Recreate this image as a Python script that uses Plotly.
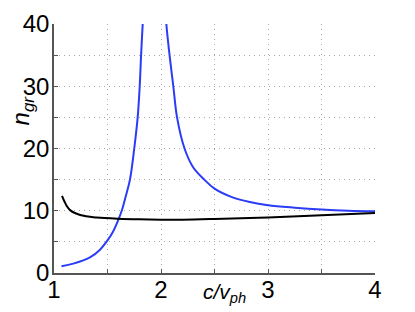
import plotly.graph_objects as go

# Blue curve, left branch (rising to divergence)
blue_left_x = [1.07, 1.18, 1.336, 1.43, 1.49, 1.55, 1.60, 1.633, 1.67, 1.71, 1.75, 1.782, 1.801, 1.814, 1.829, 1.835]
blue_left_y = [1.1, 1.5, 2.5, 3.75, 5.0, 6.6, 8.5, 10.0, 12.3, 15.0, 20.0, 25.0, 30.0, 35.0, 40.0, 42.0]

# Blue curve, right branch (decaying from divergence)
blue_right_x = [2.045, 2.05, 2.08, 2.115, 2.15, 2.22, 2.30, 2.405, 2.5, 2.676, 2.83, 3.0, 3.25, 3.5, 3.75, 4.0]
blue_right_y = [42.0, 40.0, 35.0, 30.0, 25.0, 20.0, 17.0, 15.0, 13.55, 12.1, 11.4, 10.9, 10.5, 10.2, 10.0, 9.9]

# Black curve
black_x = [1.075, 1.1, 1.12, 1.15, 1.2, 1.3, 1.4, 1.6, 1.8, 2.0, 2.2, 2.5, 3.0, 3.5, 4.0]
black_y = [12.4, 11.4, 10.75, 10.1, 9.6, 9.1, 8.9, 8.72, 8.62, 8.57, 8.57, 8.68, 8.92, 9.26, 9.65]

x_tickvals = [1, 1.5, 2, 2.5, 3, 3.5, 4]
x_ticktext = ["1", "", "2", "", "3", "", "4"]
y_tickvals = [0, 5, 10, 15, 20, 25, 30, 35, 40]
y_ticktext = ["0", "", "10", "", "20", "", "30", "", "40"]

BLUE = "#2a3cf6"
FONT = "Liberation Sans, Arial, sans-serif"

fig = go.Figure()
for xs, ys, col in [(blue_left_x, blue_left_y, BLUE),
                    (blue_right_x, blue_right_y, BLUE),
                    (black_x, black_y, "black")]:
    fig.add_trace(go.Scatter(x=xs, y=ys, mode="lines",
                             line=dict(color=col, width=2, shape="spline", smoothing=1.0),
                             showlegend=False, cliponaxis=True, hoverinfo="skip"))

# page body has an 8px default margin; compensate so the plot lands where intended
OFF = 8
W, H = 415 - OFF, 312 - OFF
L, R, T, B = 54 - OFF, 40, 23.5 - OFF, 39.3
PW, PH = W - L - R, H - T - B

def px_x(p):  # page pixel -> paper x
    return (p - OFF - L) / PW

def px_y(p):  # page pixel -> paper y
    return (H - B - (p - OFF)) / PH

axis_common = dict(showgrid=True, gridcolor="#a8a8a8", griddash="1px,4px", gridwidth=1,
                   showline=True, linecolor="#555555", linewidth=1.5,
                   ticks="inside", ticklen=4, tickcolor="#555555",
                   zeroline=False, tickfont=dict(size=24), automargin=False)

fig.update_layout(
    width=W, height=H,
    margin=dict(l=L, r=R, t=T, b=B, pad=0),
    paper_bgcolor="white", plot_bgcolor="white",
    font=dict(family=FONT, size=24, color="black"),
    xaxis=dict(range=[1, 4], tickvals=x_tickvals, ticktext=x_ticktext,
               ticklabelstandoff=-6, **axis_common),
    yaxis=dict(range=[0, 40], tickvals=y_tickvals, ticktext=y_ticktext,
               ticklabelstandoff=-2, **axis_common),
    annotations=[
        dict(text="<i>c/v<sub>ph</sub></i>", xref="paper", yref="paper",
             x=px_x(201), y=px_y(278),
             xanchor="left", yanchor="top", showarrow=False,
             font=dict(family=FONT, size=21)),
        dict(text="<i>n<sub>gr</sub></i>", xref="paper", yref="paper",
             x=px_x(22), y=px_y(110),
             xanchor="center", yanchor="middle", textangle=-90, showarrow=False,
             font=dict(family=FONT, size=24)),
    ],
)

fig.write_html("out.html")
